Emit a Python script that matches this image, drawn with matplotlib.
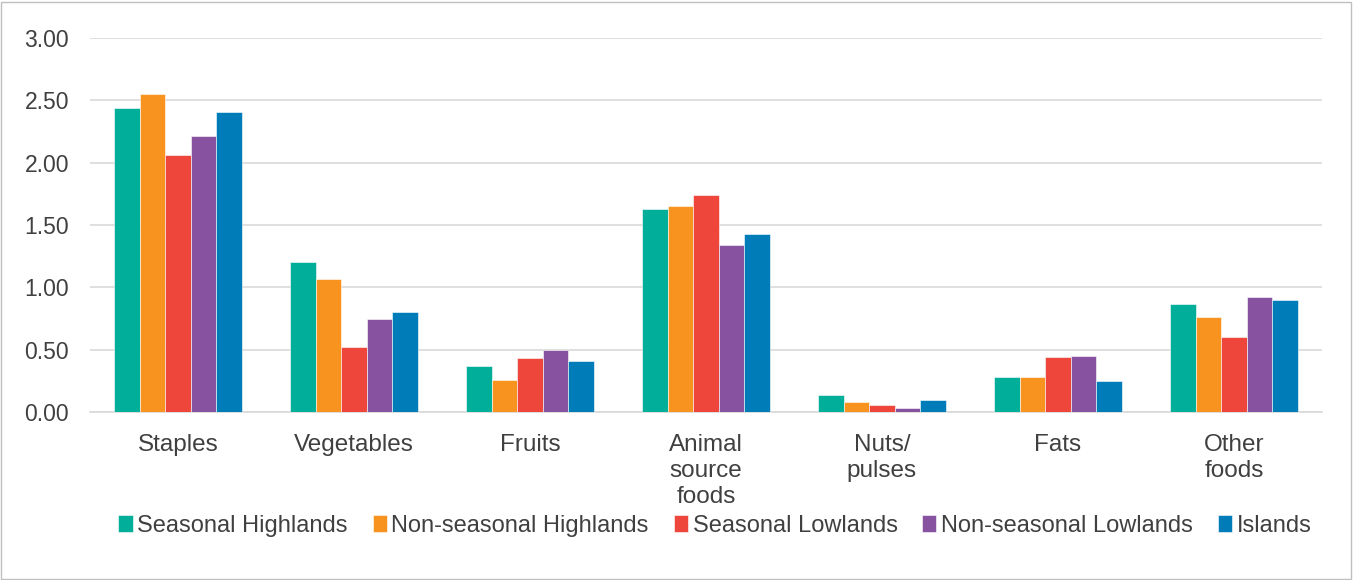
import numpy as np
import matplotlib.pyplot as plt
from matplotlib.patches import Rectangle

plt.rcParams['font.family'] = ['Liberation Sans', 'DejaVu Sans']

categories = ['Staples', 'Vegetables', 'Fruits', 'Animal\nsource\nfoods',
              'Nuts/\npulses', 'Fats', 'Other\nfoods']
series = ['Seasonal Highlands', 'Non-seasonal Highlands', 'Seasonal Lowlands',
          'Non-seasonal Lowlands', 'Islands']
seasonal_highlands = [2.44, 1.20, 0.37, 1.63, 0.14, 0.28, 0.87]
nonseasonal_highlands = [2.55, 1.07, 0.26, 1.65, 0.08, 0.28, 0.76]
seasonal_lowlands = [2.06, 0.52, 0.43, 1.74, 0.06, 0.44, 0.60]
nonseasonal_lowlands = [2.21, 0.75, 0.50, 1.34, 0.03, 0.45, 0.92]
islands = [2.41, 0.80, 0.41, 1.43, 0.10, 0.25, 0.90]
colors = ['#00AE9A', '#F7931E', '#EF463C', '#8753A1', '#007DB8']

values = [seasonal_highlands, nonseasonal_highlands, seasonal_lowlands,
          nonseasonal_lowlands, islands]

fig = plt.figure(figsize=(13.57, 5.80), dpi=100)
ax = fig.add_axes([90 / 1357, 1 - 412 / 580, 1232 / 1357, 374 / 580])

x = np.arange(len(categories))
w = 0.145
for i, (vals, name, c) in enumerate(zip(values, series, colors)):
    ax.bar(x + (i - 2) * w, vals, w, color=c, label=name,
           edgecolor='white', linewidth=0.4, zorder=3)

ax.set_xlim(-0.5, len(categories) - 0.5)
ax.set_ylim(0, 3.0)
ax.set_yticks(np.arange(0, 3.01, 0.5))
ax.set_yticklabels([f'{v:.2f}' for v in np.arange(0, 3.01, 0.5)])
ax.set_xticks(x)
ax.set_xticklabels(categories, linespacing=1.22)
ax.grid(axis='y', color='#D9D9D9', linewidth=1.2, zorder=0)
for s in ['left', 'right', 'top']:
    ax.spines[s].set_visible(False)
ax.spines['bottom'].set_color('#D9D9D9')
ax.spines['bottom'].set_linewidth(1.2)
ax.tick_params(axis='both', length=0, colors='#404040')
ax.tick_params(axis='x', pad=16, labelsize=17.5)
ax.tick_params(axis='y', pad=15, labelsize=16.5)

fig.legend(loc='center', bbox_to_anchor=(715 / 1357, 1 - 526 / 580), ncol=5,
           frameon=False, fontsize=17, handlelength=0.6, handleheight=0.75,
           handletextpad=0.2, columnspacing=1.05, labelcolor='#404040')

fig.patches.append(Rectangle((1 / 1357, 1 / 580), 1350 / 1357, 577 / 580,
                             transform=fig.transFigure, fill=False,
                             edgecolor='#BFBFBF', linewidth=1))

fig.savefig('out.png', dpi=100)
